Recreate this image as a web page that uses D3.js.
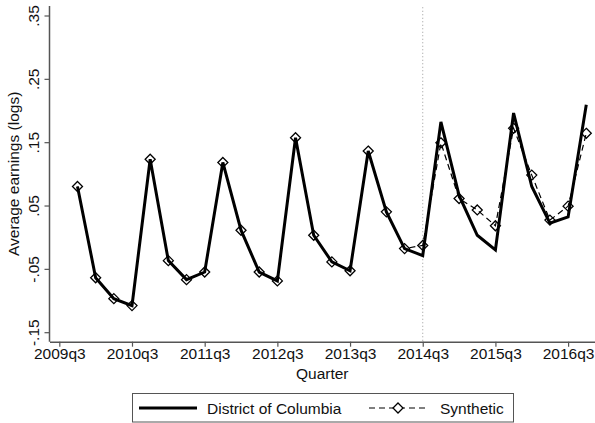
<!DOCTYPE html>
<html>
<head>
<meta charset="utf-8">
<script src="https://cdn.jsdelivr.net/npm/d3@7"></script>
<style>
  html, body { margin: 0; padding: 0; background: #fff; }
  svg { display: block; font-family: "Liberation Sans", Arial, sans-serif; }
</style>
</head>
<body>
<svg id="chart" width="595" height="423"></svg>
<script>
// Quarters (index 0 = 2009q3)
const quarters = ["2009q4","2010q1","2010q2","2010q3","2010q4","2011q1","2011q2","2011q3","2011q4",
  "2012q1","2012q2","2012q3","2012q4","2013q1","2013q2","2013q3","2013q4",
  "2014q1","2014q2","2014q3","2014q4","2015q1","2015q2","2015q3","2015q4",
  "2016q1","2016q2","2016q3","2016q4"];
const districtOfColumbia = [0.080,-0.064,-0.097,-0.108,0.123,-0.037,-0.067,-0.055,0.118,
  0.011,-0.055,-0.069,0.157,0.003,-0.039,-0.053,0.136,
  0.040,-0.018,-0.029,0.182,0.066,0.003,-0.020,0.196,
  0.080,0.022,0.032,0.209];
const synthetic = [0.080,-0.064,-0.097,-0.108,0.123,-0.037,-0.067,-0.055,0.118,
  0.011,-0.055,-0.069,0.157,0.003,-0.039,-0.053,0.136,
  0.040,-0.018,-0.013,0.149,0.061,0.043,0.018,0.172,
  0.098,0.027,0.049,0.164];
const xTickLabels = ["2009q3","2010q3","2011q3","2012q3","2013q3","2014q3","2015q3","2016q3"];
const yTickValues = [-0.15,-0.05,0.05,0.15,0.25,0.35];
const yTickLabels = ["-.15","-.05",".05",".15",".25",".35"];
const treatmentQuarter = "2014q3";

function qIndex(q) { const yr = +q.slice(0,4), n = +q.slice(5); return (yr - 2009) * 4 + (n - 3); }

const svg = d3.select("#chart");
const pLeft = 49.5, pRight = 595, pTop = 6, pBottom = 341.7;
const axisColor = "#555";
const fs = 15.5;

const x = d3.scaleLinear().domain([-0.54, 29.48]).range([pLeft, pRight]);
const y = d3.scaleLinear().domain([-0.165, 0.365]).range([pBottom, pTop]);

// treatment dotted line
svg.append("line")
  .attr("x1", x(qIndex(treatmentQuarter))).attr("x2", x(qIndex(treatmentQuarter)))
  .attr("y1", y(0.363)).attr("y2", pBottom)
  .attr("stroke", "#999").attr("stroke-width", 1).attr("stroke-dasharray", "1,2.5");

// X axis
const xAxis = d3.axisBottom(x)
  .tickValues(xTickLabels.map(qIndex))
  .tickFormat((d, i) => xTickLabels[i])
  .tickSize(5).tickSizeOuter(0);
const gx = svg.append("g").attr("transform", `translate(0,${pBottom})`).call(xAxis);
gx.select(".domain").attr("stroke", axisColor).attr("stroke-width", 1.5);
gx.selectAll(".tick line").attr("stroke", axisColor).attr("stroke-width", 1.2);
gx.selectAll(".tick text").attr("font-size", fs).attr("fill", "#111")
  .attr("font-family", "Liberation Sans, Arial, sans-serif").attr("dy", "0.6em");

// Y axis
const yAxis = d3.axisLeft(y)
  .tickValues(yTickValues)
  .tickFormat((d, i) => yTickLabels[i])
  .tickSize(5).tickSizeOuter(0);
const gy = svg.append("g").attr("transform", `translate(${pLeft},0)`).call(yAxis);
gy.select(".domain").attr("stroke", axisColor).attr("stroke-width", 1.5)
  .attr("d", `M0,${pBottom}V${pTop}`);
gy.selectAll(".tick line").attr("stroke", axisColor).attr("stroke-width", 1.2);
gy.selectAll(".tick text")
  .attr("font-size", fs).attr("fill", "#111")
  .attr("font-family", "Liberation Sans, Arial, sans-serif")
  .attr("text-anchor", "middle")
  .attr("x", 0).attr("dy", 0)
  .attr("transform", "translate(-11,0) rotate(-90)");

// Axis titles
svg.append("text")
  .attr("x", (pLeft + pRight) / 2).attr("y", 379)
  .attr("text-anchor", "middle").attr("font-size", fs).attr("fill", "#111")
  .text("Quarter");
svg.append("text")
  .attr("transform", `translate(19,${(pTop + pBottom) / 2}) rotate(-90)`)
  .attr("text-anchor", "middle").attr("font-size", fs).attr("fill", "#111")
  .text("Average earnings (logs)");

// Lines
const line = d3.line().x(d => x(qIndex(d.q))).y(d => y(d.v));
const dcData = quarters.map((q, i) => ({ q, v: districtOfColumbia[i] }));
const synData = quarters.map((q, i) => ({ q, v: synthetic[i] }));

svg.append("path").datum(dcData).attr("d", line)
  .attr("fill", "none").attr("stroke", "#000").attr("stroke-width", 3)
  .attr("stroke-linejoin", "miter");
svg.append("path").datum(synData).attr("d", line)
  .attr("fill", "none").attr("stroke", "#000").attr("stroke-width", 1.2)
  .attr("stroke-dasharray", "6,4");

function diamondPath(r) { return `M0,${-r}L${r},0L0,${r}L${-r},0Z`; }
svg.append("g").selectAll("path").data(synData).join("path")
  .attr("transform", d => `translate(${x(qIndex(d.q))},${y(d.v)})`)
  .attr("d", diamondPath(5))
  .attr("fill", "none").attr("stroke", "#000").attr("stroke-width", 1.3);

// Legend
const lg = svg.append("g");
lg.append("rect").attr("x", 132.5).attr("y", 393.5).attr("width", 381).attr("height", 28.5)
  .attr("fill", "#fff").attr("stroke", axisColor).attr("stroke-width", 1);
lg.append("line").attr("x1", 139).attr("x2", 197).attr("y1", 408).attr("y2", 408)
  .attr("stroke", "#000").attr("stroke-width", 3);
lg.append("text").attr("x", 207).attr("y", 413.5).attr("font-size", fs).attr("fill", "#111")
  .text("District of Columbia");
lg.append("line").attr("x1", 369).attr("x2", 425).attr("y1", 408).attr("y2", 408)
  .attr("stroke", "#000").attr("stroke-width", 1.2).attr("stroke-dasharray", "6,4");
lg.append("path").attr("transform", "translate(398,408)").attr("d", diamondPath(5))
  .attr("fill", "#fff").attr("stroke", "#000").attr("stroke-width", 1.3);
lg.append("text").attr("x", 440).attr("y", 413.5).attr("font-size", fs).attr("fill", "#111")
  .text("Synthetic");
</script>
</body>
</html>
